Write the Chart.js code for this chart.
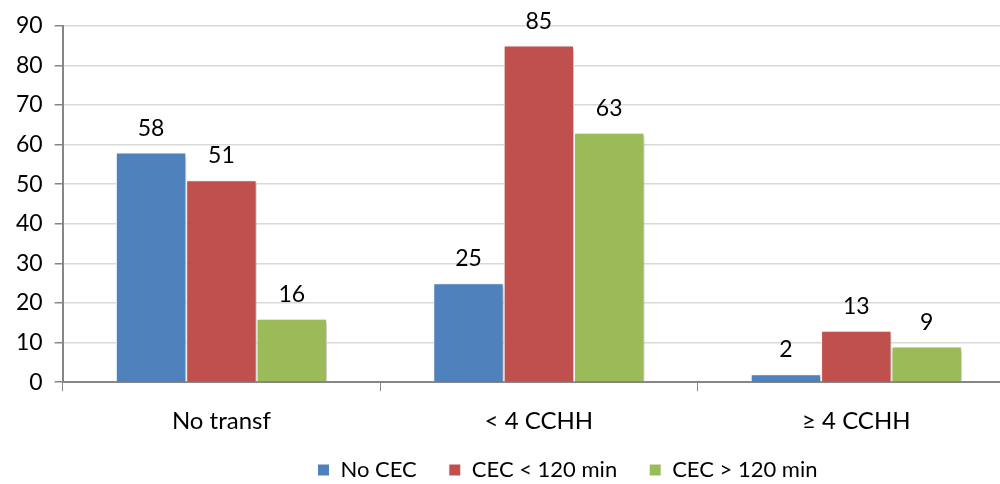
<!DOCTYPE html>
<html>
<head>
<meta charset="utf-8">
<script src="https://cdn.jsdelivr.net/npm/chart.js@4/dist/chart.umd.min.js"></script>
<style>
  html, body { margin: 0; padding: 0; background: #fff; overflow: hidden; }
  #wrap { width: 1015px; height: 484px; position: relative; }
</style>
</head>
<body>
<div id="wrap"><canvas id="chart"></canvas></div>
<script>
const categories = ['No transf', '< 4 CCHH', '≥ 4 CCHH'];
const noCec      = [58, 25, 2];
const cecMenos   = [51, 85, 13];
const cecMas     = [16, 63, 9];
const seriesNames = ['No CEC', 'CEC < 120 min', 'CEC > 120 min'];
const yTicks     = [0, 10, 20, 30, 40, 50, 60, 70, 80, 90];

const FONT = 'Lato, "Open Sans", sans-serif';

// labels above each bar
const valueLabels = {
  id: 'valueLabels',
  afterDatasetsDraw(chart) {
    const ctx = chart.ctx;
    ctx.save();
    ctx.font = `23px ${FONT}`;
    ctx.fillStyle = '#000';
    ctx.textAlign = 'center';
    ctx.textBaseline = 'alphabetic';
    chart.data.datasets.forEach((ds, i) => {
      chart.getDatasetMeta(i).data.forEach((bar, j) => {
        ctx.fillText(ds.data[j], bar.x, bar.y - 17);
      });
    });
    ctx.restore();
  }
};

// soft drop shadow behind the bars
const barShadow = {
  id: 'barShadow',
  beforeDatasetsDraw(chart) {
    const ctx = chart.ctx;
    ctx.save();
    ctx.shadowColor = 'rgba(0,0,0,0.28)';
    ctx.shadowBlur = 4;
    ctx.shadowOffsetX = 2;
    ctx.shadowOffsetY = 2;
  },
  afterDatasetsDraw(chart) { chart.ctx.restore(); }
};

// legend: a bit right of centre, moved up, box kept tall enough not to clip
const legendShift = {
  id: 'legendShift',
  afterLayout(chart) {
    const lg = chart.legend;
    lg.left += 58; lg.right += 58;
    lg.top -= 25;
    lg.bottom = lg.top + 70;
    lg.height = 70;
  }
};

const mk = (label, data, color) => ({
  label, data, backgroundColor: color,
  borderColor: '#ffffff', borderWidth: 1,
  barPercentage: 1.0, categoryPercentage: 0.665
});

new Chart(document.getElementById('chart'), {
  type: 'bar',
  data: {
    labels: categories,
    datasets: [
      mk(seriesNames[0], noCec, '#4f81bd'),
      mk(seriesNames[1], cecMenos, '#c0504d'),
      mk(seriesNames[2], cecMas, '#9bbb59')
    ]
  },
  options: {
    responsive: true, maintainAspectRatio: false, animation: false,
    layout: { padding: { top: 22, left: 4, right: 0, bottom: 0 } },
    plugins: {
      legend: {
        position: 'bottom',
        maxHeight: 32,
        labels: { font: { size: 22, family: FONT }, color: '#000', boxWidth: 12, boxHeight: 12, padding: 32, useBorderRadius: false }
      },
      tooltip: { enabled: false }
    },
    scales: {
      x: {
        grid: { drawOnChartArea: false, drawTicks: true, tickLength: 9, color: '#868686', offset: true },
        border: { color: '#868686', width: 2 },
        ticks: { font: { size: 24, family: FONT }, color: '#000', padding: 16 }
      },
      y: {
        min: 0, max: 90,
        afterBuildTicks: axis => { axis.ticks = yTicks.map(v => ({ value: v })); },
        grid: { color: '#d9d9d9', lineWidth: 1.5, tickLength: 8, tickColor: '#868686' },
        border: { color: '#868686', width: 2 },
        ticks: { font: { size: 23, family: FONT }, color: '#000', padding: 12 }
      }
    }
  },
  plugins: [barShadow, valueLabels, legendShift]
});
</script>
</body>
</html>
